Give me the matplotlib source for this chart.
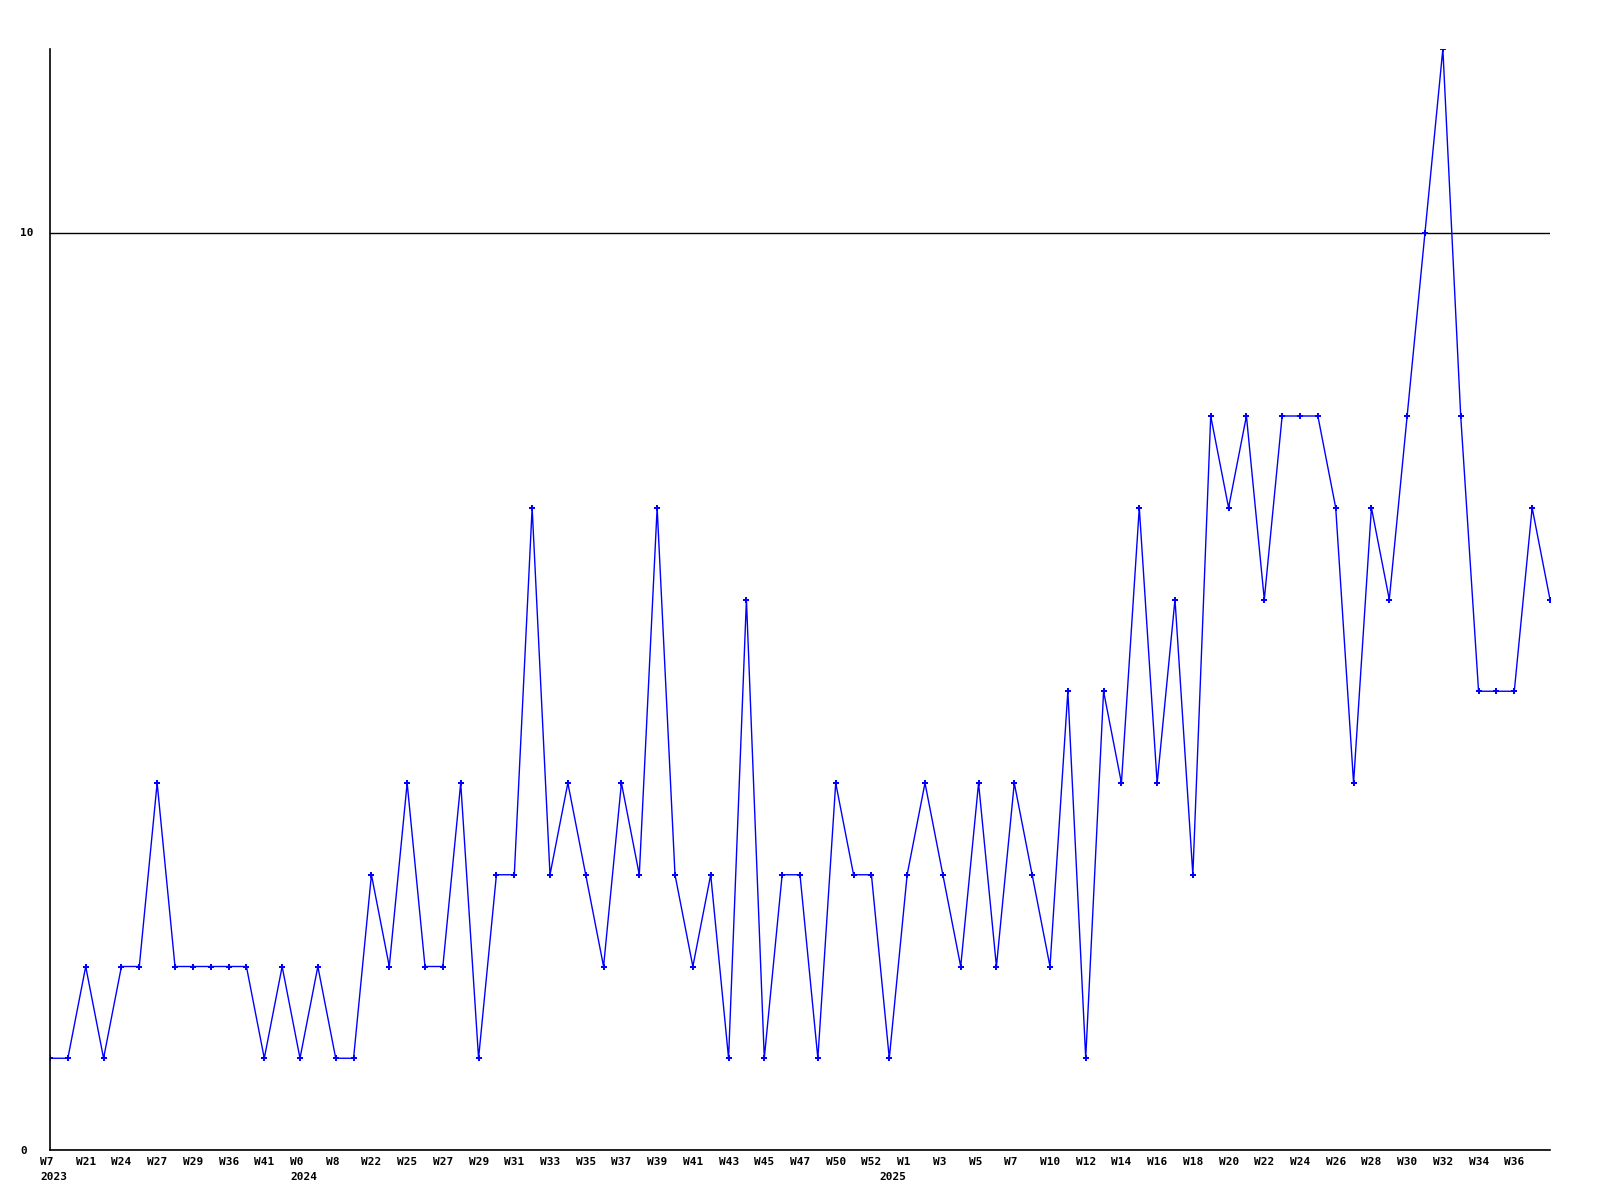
import matplotlib
matplotlib.use('Agg')
import matplotlib.pyplot as plt
import matplotlib.transforms as mtransforms

# weekly counts
values = [1, 1, 2, 1, 2, 2, 4, 2, 2, 2, 2, 2, 1, 2, 1, 2, 1, 1, 3, 2,
          4, 2, 2, 4, 1, 3, 3, 7, 3, 4, 3, 2, 4, 3, 7, 3, 2, 3, 1, 6,
          1, 3, 3, 1, 4, 3, 3, 1, 3, 4, 3, 2, 4, 2, 4, 3, 2, 5, 1, 5,
          4, 7, 4, 6, 3, 8, 7, 8, 6, 8, 8, 8, 7, 4, 7, 6, 8, 10, 12, 8,
          5, 5, 5, 7, 6]

# labels shown on every second point
week_labels = ['W7', 'W21', 'W24', 'W27', 'W29', 'W36', 'W41', 'W0', 'W8', 'W22',
               'W25', 'W27', 'W29', 'W31', 'W33', 'W35', 'W37', 'W39', 'W41', 'W43',
               'W45', 'W47', 'W50', 'W52', 'W1', 'W3', 'W5', 'W7', 'W10', 'W12',
               'W14', 'W16', 'W18', 'W20', 'W22', 'W24', 'W26', 'W28', 'W30', 'W32',
               'W34', 'W36']
year_labels = {0: '2023', 14: '2024', 47: '2025'}

x = list(range(len(values)))

fig = plt.figure(figsize=(16, 12), dpi=100)
ax = fig.add_axes([50/1600, 1 - 1150/1200, 1500/1600, 1101/1200])

ax.plot(x, values, color='#0000ff', lw=1, marker='P', ms=4.5, mew=0)

ax.set_xlim(0, len(values) - 1)
ax.set_ylim(0, 12)
ax.set_yticks([0, 10])
ax.set_yticklabels(['0', '10'])
ax.grid(axis='y', color='black', lw=1)
ax.set_axisbelow(True)

for s in ['top', 'right']:
    ax.spines[s].set_visible(False)
for s in ['left', 'bottom']:
    ax.spines[s].set_linewidth(1.2)

ax.set_xticks([])
ax.tick_params(length=0)
font = dict(family='DejaVu Sans Mono', weight='bold', size=8)

# x labels sit 10px left of their point
trans = mtransforms.blended_transform_factory(ax.transData, ax.transAxes)
trans = trans + mtransforms.ScaledTranslation(-10/100, 0, fig.dpi_scale_trans)
for i, wk in enumerate(week_labels):
    ax.text(2 * i, -0.0112, wk, transform=trans, ha='left', va='center', **font)
for i, yr in year_labels.items():
    ax.text(i, -0.0247, yr, transform=trans, ha='left', va='center', **font)

ax.tick_params(axis='y', pad=21.6)
for lab in ax.get_yticklabels():
    lab.set_fontproperties(font)
    lab.set_ha('left')

fig.savefig('out.png', dpi=100)
